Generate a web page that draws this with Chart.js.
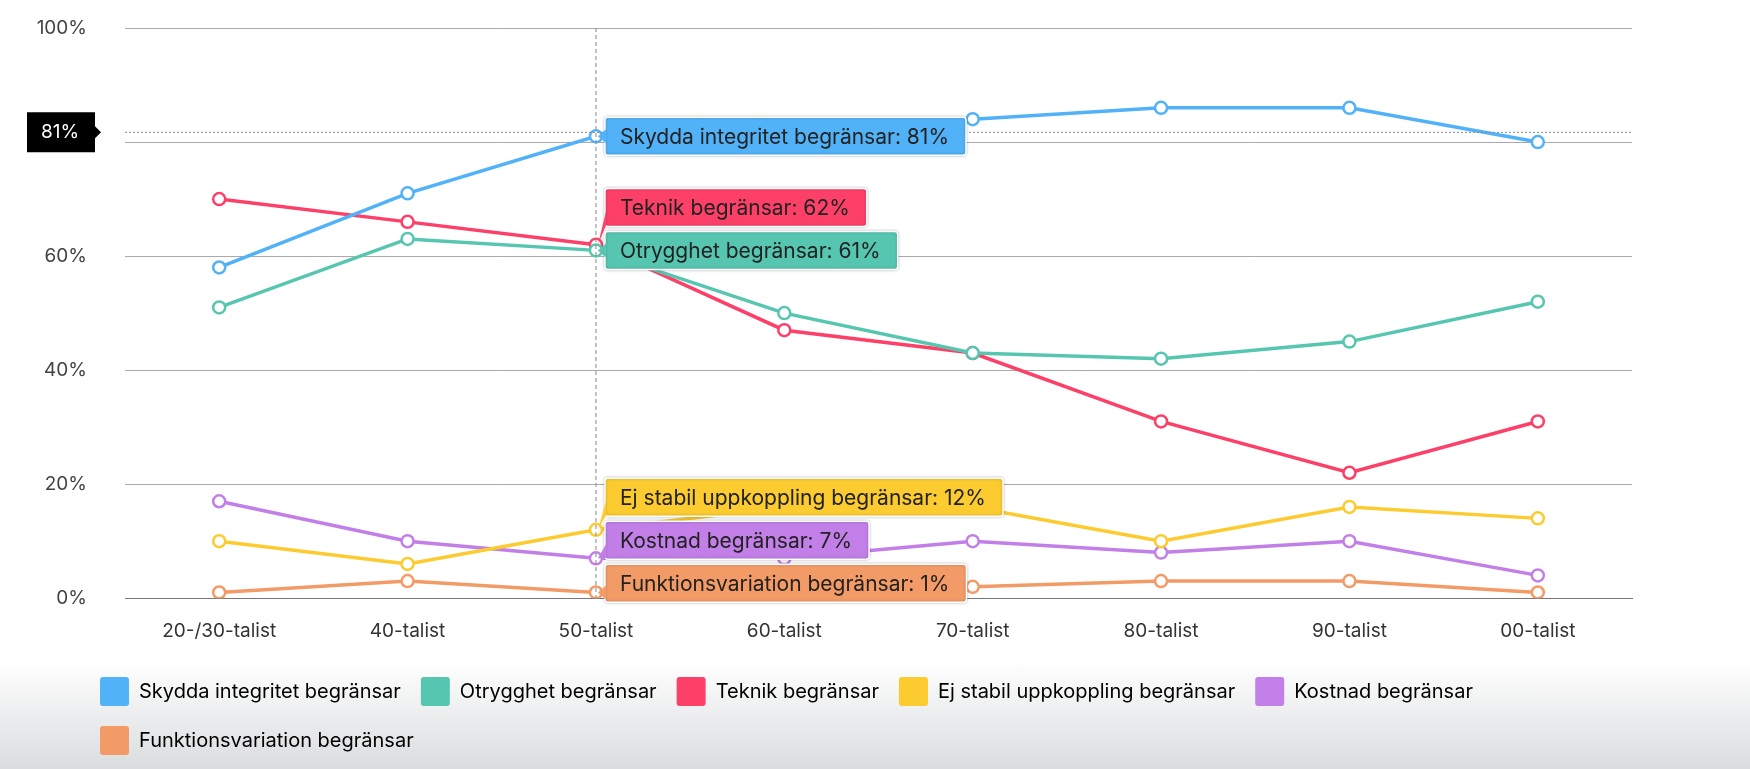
<!DOCTYPE html>
<html>
<head>
<meta charset="utf-8">
<script src="https://cdn.jsdelivr.net/npm/chart.js@4.4.1/dist/chart.umd.min.js"></script>
<style>
  html, body { margin: 0; padding: 0; }
  body {
    width: 1750px; height: 769px; overflow: hidden;
    background: linear-gradient(to bottom, #ffffff 0px, #ffffff 660px, #dadcde 769px);
    font-family: Inter, "Open Sans", sans-serif;
  }
  #wrap { width: 1750px; height: 769px; }
</style>
</head>
<body>
<div id="wrap"><canvas id="grafico"></canvas></div>
<script>
// Dados
const kategorier = ["20-/30-talist", "40-talist", "50-talist", "60-talist", "70-talist", "80-talist", "90-talist", "00-talist"];
const skydda = [58, 71, 81, 80, 84, 86, 86, 80];
const otrygghet = [51, 63, 61, 50, 43, 42, 45, 52];
const teknik = [70, 66, 62, 47, 43, 31, 22, 31];
const ejStabil = [10, 6, 12, 16, 16, 10, 16, 14];
const kostnad = [17, 10, 7, 7, 10, 8, 10, 4];
const funktion = [1, 3, 1, 1, 2, 3, 3, 1];
const yTicks = [0, 20, 40, 60, 80, 100];
const aktivIndex = 2;

const serier = [
    { label: "Skydda integritet begränsar", data: skydda, color: "#52b2f8" },
    { label: "Otrygghet begränsar", data: otrygghet, color: "#57c6b1" },
    { label: "Teknik begränsar", data: teknik, color: "#fc4068" },
    { label: "Ej stabil uppkoppling begränsar", data: ejStabil, color: "#fbcb30" },
    { label: "Kostnad begränsar", data: kostnad, color: "#c17fe7" },
    { label: "Funktionsvariation begränsar", data: funktion, color: "#f39b67" }
];

const FONT = "Inter, 'Open Sans', sans-serif";

// y-etiketter (ritas själv så de inte klipps), crosshair + etiketter för aktivt index
const hoverPlugin = {
    id: "hoverLabels",
    afterDraw(chart) {
        const c = chart.ctx;
        const area = chart.chartArea;
        const yScale = chart.scales.y;

        c.save();
        c.font = "19px " + FONT;
        c.fillStyle = "#444";
        c.textAlign = "right";
        c.textBaseline = "middle";
        yTicks.forEach(v => c.fillText(v + "%", 87, yScale.getPixelForValue(v)));

        const x0 = chart.getDatasetMeta(0).data[aktivIndex].x;
        c.setLineDash([4, 3]);
        c.strokeStyle = "#888";
        c.lineWidth = 1;
        c.beginPath();
        c.moveTo(x0, area.top);
        c.lineTo(x0, area.bottom);
        c.stroke();

        const yVal = skydda[aktivIndex];
        const yy = yScale.getPixelForValue(yVal) - 4;
        c.setLineDash([2, 2]);
        c.beginPath();
        c.moveTo(area.left, yy);
        c.lineTo(area.right, yy);
        c.stroke();
        c.setLineDash([]);

        // svart y-etikett
        c.fillStyle = "#000";
        c.beginPath();
        c.moveTo(27, yy - 20);
        c.lineTo(95, yy - 20);
        c.lineTo(95, yy - 6);
        c.lineTo(101, yy);
        c.lineTo(95, yy + 6);
        c.lineTo(95, yy + 20);
        c.lineTo(27, yy + 20);
        c.closePath();
        c.fill();
        c.fillStyle = "#fff";
        c.font = "19px " + FONT;
        c.textAlign = "center";
        c.fillText(yVal + "%", 60, yy);

        // etikettboxar, staplade nerifrån och upp
        const h = 38, gap = 5;
        const boxes = serier.map((s, i) => {
            const p = chart.getDatasetMeta(i).data[aktivIndex];
            return { s: s, px: p.x, py: p.y, text: s.label + ": " + s.data[aktivIndex] + "%" };
        }).sort((a, b) => b.py - a.py);
        let limit = area.bottom + 4;
        boxes.forEach(b => {
            const cy = Math.min(b.py, limit - h / 2);
            b.cy = cy;
            limit = cy - h / 2 - gap;
        });

        c.font = "21px " + FONT;
        c.textAlign = "left";
        boxes.forEach(b => {
            const w = c.measureText(b.text).width + 32;
            const bx = b.px + 9;
            const by = b.cy - h / 2;
            c.shadowColor = "rgba(0,0,0,0.25)";
            c.shadowBlur = 3;
            c.fillStyle = b.s.color;
            c.strokeStyle = "#fff";
            c.lineWidth = 1.5;
            c.beginPath();
            c.roundRect(bx, by, w, h, 3);
            c.fill();
            c.stroke();
            c.shadowBlur = 0;
            const ty = Math.max(by + 8, Math.min(by + h - 8, b.py));
            c.beginPath();
            c.moveTo(bx + 1, ty - 7);
            c.lineTo(b.px + 2, b.py);
            c.lineTo(bx + 1, ty + 7);
            c.closePath();
            c.fill();
            c.fillStyle = "#222";
            c.fillText(b.text, bx + 15, b.cy + 1);
        });
        c.restore();
    }
};

new Chart(document.getElementById("grafico"), {
    type: "line",
    data: {
        labels: kategorier,
        datasets: serier.map(s => ({
            label: s.label,
            data: s.data,
            borderColor: s.color,
            backgroundColor: s.color,
            borderWidth: 3.5,
            pointRadius: 6,
            pointBorderWidth: 2.5,
            pointBackgroundColor: "#fff",
            pointBorderColor: s.color,
            tension: 0
        }))
    },
    plugins: [hoverPlugin],
    options: {
        responsive: true,
        maintainAspectRatio: false,
        animation: false,
        events: [],
        layout: { padding: { left: 80, right: 118, top: 28, bottom: 4 } },
        scales: {
            x: {
                offset: true,
                grid: { display: false },
                border: { color: "#777" },
                ticks: { color: "#333", font: { size: 19, family: FONT }, padding: 14 }
            },
            y: {
                min: 0, max: 100,
                afterFit(scale) { scale.width = 45; },
                afterBuildTicks(scale) { scale.ticks = yTicks.map(v => ({ value: v })); },
                grid: { color: "#aaa", drawTicks: false },
                border: { display: false },
                ticks: { display: false }
            }
        },
        plugins: {
            tooltip: { enabled: false },
            legend: {
                position: "bottom",
                align: "start",
                labels: {
                    boxWidth: 29, boxHeight: 29, padding: 20,
                    color: "#333",
                    font: { size: 20, family: FONT },
                    generateLabels(chart) {
                        return chart.data.datasets.map((d, i) => ({
                            text: d.label, fillStyle: d.borderColor, strokeStyle: d.borderColor,
                            lineWidth: 0, datasetIndex: i, borderRadius: 3
                        }));
                    }
                }
            }
        }
    }
});
</script>
</body>
</html>
